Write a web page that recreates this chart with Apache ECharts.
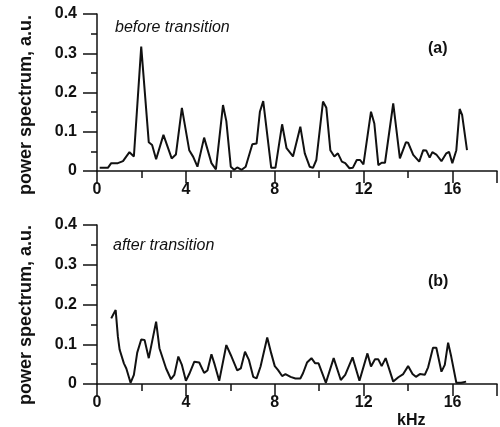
<!DOCTYPE html>
<html>
<head>
<meta charset="utf-8">
<script src="https://cdn.jsdelivr.net/npm/echarts@6/dist/echarts.min.js"></script>
<style>
  html, body { margin: 0; padding: 0; background: #fff; }
  #chart { width: 500px; height: 427px; }
</style>
</head>
<body>
<div id="chart"></div>
<script>
// frequency (kHz) and power for the two spectra
let topX = [0.12,0.49,0.64,0.94,1.17,1.46,1.66,1.99,2.33,2.48,2.66,2.99,3.36,3.55,3.82,4.15,4.33,4.52,4.82,5.15,5.35,5.67,5.82,6.02,6.17,6.31,6.51,6.69,6.99,7.18,7.33,7.48,7.84,8.03,8.33,8.53,8.82,9.15,9.35,9.57,9.72,9.87,10.17,10.32,10.5,10.68,10.84,11.02,11.17,11.36,11.51,11.69,11.84,11.99,12.33,12.48,12.66,12.81,12.96,13.33,13.63,13.9,14.0,14.23,14.5,14.68,14.82,14.97,15.09,15.27,15.5,15.72,15.84,15.99,16.17,16.32,16.43,16.65];
let topY = [0.008,0.008,0.02,0.02,0.025,0.048,0.037,0.317,0.073,0.066,0.03,0.092,0.032,0.042,0.161,0.053,0.036,0.011,0.085,0.02,0.004,0.168,0.127,0.011,0.003,0.009,0.003,0.011,0.068,0.07,0.151,0.178,0.008,0.008,0.119,0.058,0.037,0.113,0.045,0.011,0.008,0.028,0.177,0.161,0.053,0.037,0.045,0.024,0.02,0.007,0.008,0.028,0.028,0.017,0.151,0.121,0.015,0.021,0.021,0.172,0.032,0.073,0.072,0.041,0.024,0.053,0.052,0.034,0.048,0.042,0.025,0.045,0.049,0.02,0.053,0.158,0.143,0.053];
let botX = [0.64,0.76,0.84,0.94,1.02,1.21,1.32,1.51,1.66,1.81,1.99,2.14,2.33,2.66,2.81,3.11,3.33,3.48,3.66,3.82,4.0,4.15,4.38,4.6,4.82,4.97,5.15,5.3,5.5,5.82,6.02,6.31,6.47,6.66,6.84,7.03,7.18,7.36,7.66,7.84,8.0,8.15,8.33,8.48,8.71,8.93,9.15,9.27,9.45,9.65,9.82,9.97,10.3,10.65,10.97,11.17,11.5,11.81,12.17,12.33,12.51,12.66,12.81,12.99,13.33,13.56,13.78,14.0,14.2,14.35,14.53,14.75,14.9,15.12,15.27,15.5,15.65,15.8,15.94,16.17,16.39,16.61];
let botY = [0.165,0.178,0.186,0.119,0.086,0.052,0.039,0.003,0.023,0.079,0.112,0.111,0.065,0.157,0.09,0.039,0.012,0.023,0.069,0.048,0.008,0.025,0.056,0.054,0.028,0.034,0.075,0.048,0.008,0.098,0.073,0.034,0.039,0.081,0.06,0.018,0.014,0.044,0.117,0.077,0.045,0.035,0.02,0.025,0.018,0.014,0.014,0.027,0.054,0.065,0.052,0.052,0.003,0.065,0.01,0.023,0.067,0.008,0.077,0.044,0.062,0.062,0.045,0.065,0.006,0.017,0.025,0.045,0.025,0.018,0.025,0.023,0.042,0.091,0.091,0.031,0.048,0.104,0.069,0.003,0.003,0.006];

let xLabels = [0, 4, 8, 12, 16];
let yLabel = 'power spectrum, a.u.';

const font = '"Liberation Sans", Arial, sans-serif';
const ink = '#111';

let zip = function (xs, ys) {
    let out = [];
    for (let i = 0; i < xs.length; i++) {
        out.push([xs[i], ys[i]]);
    }
    return out;
};

// minor x axis: every 2 kHz, short ticks, labels on multiples of 4
let xMinor = function (grid) {
    return {
        type: 'value', gridIndex: grid, position: 'bottom', min: 0, max: 18, interval: 2,
        axisLine: { lineStyle: { color: ink, width: 1.5 } },
        axisTick: { length: 7, lineStyle: { color: ink, width: 1.5 } },
        splitLine: { show: false },
        axisLabel: {
            margin: 11, color: ink, fontFamily: font, fontWeight: 'bold', fontSize: 16,
            formatter: function (v) { return xLabels.indexOf(v) >= 0 ? String(v) : ''; }
        }
    };
};
// major x axis: long ticks only (same 0..18 range so ticks line up)
let xMajor = function (grid) {
    return {
        type: 'value', gridIndex: grid, position: 'bottom', min: 0, max: 18, interval: 4,
        axisLine: { show: false },
        axisTick: { length: 12, lineStyle: { color: ink, width: 1.5 } },
        axisLabel: { show: false },
        splitLine: { show: false }
    };
};
let yAxisFor = function (grid) {
    return {
        type: 'value', gridIndex: grid, min: 0, max: 0.4, interval: 0.1,
        axisLine: { show: true, lineStyle: { color: ink, width: 1.5 } },
        axisTick: { show: true, length: 14, lineStyle: { color: ink, width: 1.5 } },
        minorTick: { show: true, splitNumber: 2, length: 6, lineStyle: { color: ink, width: 1.5 } },
        splitLine: { show: false },
        axisLabel: { margin: 20, color: ink, fontFamily: font, fontWeight: 'bold', fontSize: 16 }
    };
};

let textEl = function (left, top, str, style) {
    return {
        type: 'text', left: left, top: top,
        style: { text: str, fill: ink, font: style }
    };
};
// rotated y-axis title, centred on (cx, cy)
let yTitle = function (cx, cy) {
    return {
        type: 'text', x: cx, y: cy, rotation: Math.PI / 2,
        style: {
            text: yLabel, fill: ink, font: 'bold 18px ' + font,
            align: 'center', verticalAlign: 'middle'
        }
    };
};

let option = {
    animation: false,
    backgroundColor: '#fff',
    grid: [
        { left: 97, top: 14, width: 402, height: 157 },
        { left: 97, top: 225, width: 402, height: 159 }
    ],
    xAxis: [xMinor(0), xMajor(0), xMinor(1), xMajor(1)],
    yAxis: [yAxisFor(0), yAxisFor(1)],
    graphic: [
        yTitle(26, 105),
        yTitle(26, 315),
        textEl(115, 20, 'before transition', 'italic 16px ' + font),
        textEl(428, 41, '(a)', 'bold 16px ' + font),
        textEl(113, 238, 'after transition', 'italic 16px ' + font),
        textEl(428, 274, '(b)', 'bold 16px ' + font),
        textEl(397, 413, 'kHz', 'bold 16px ' + font)
    ],
    series: [
        {
            type: 'line', xAxisIndex: 0, yAxisIndex: 0,
            data: zip(topX, topY), symbol: 'none',
            lineStyle: { color: ink, width: 2 }
        },
        {
            type: 'line', xAxisIndex: 2, yAxisIndex: 1,
            data: zip(botX, botY), symbol: 'none',
            lineStyle: { color: ink, width: 2 }
        }
    ]
};

const chart = echarts.init(document.getElementById('chart'), null, { renderer: 'canvas' });
chart.setOption(option);
</script>
</body>
</html>
